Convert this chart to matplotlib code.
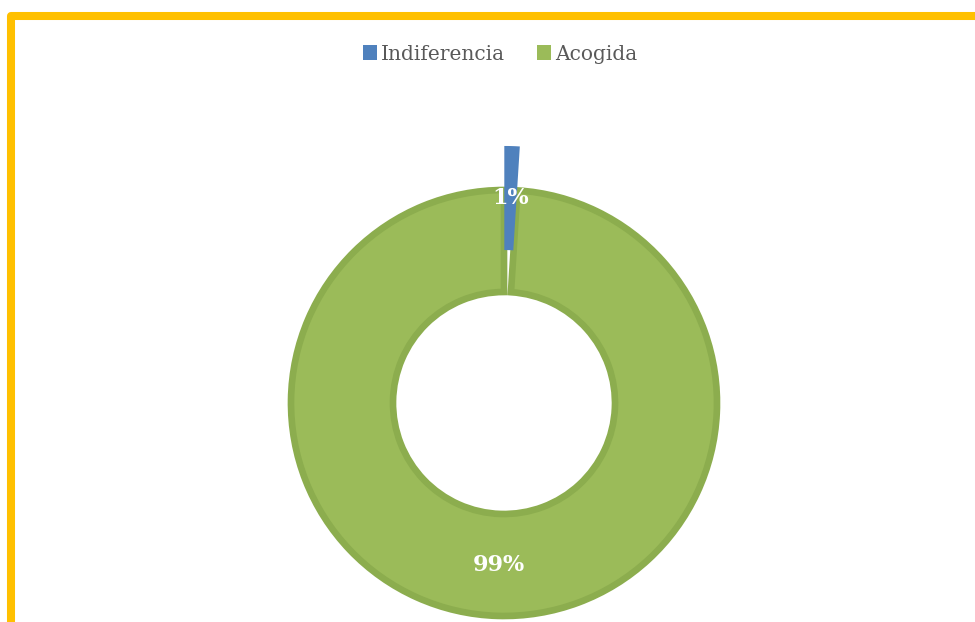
import matplotlib.pyplot as plt
from matplotlib.patches import Rectangle

# -- Data --------------------------------------------------------------------
categories = ["Indiferencia", "Acogida"]
values = [1, 99]
colors = ["#4f81bd", "#9bbb59"]
edge_colors = ["#4f81bd", "#8cad4e"]

W, H = 975, 622
CX, CY = 504, H - 403
R = 213
RING = 102
explode = [43, 0]  # pie offsets in data units (pixels here)

fig = plt.figure(figsize=(W / 100, H / 100), dpi=100)
ax = fig.add_axes([0, 0, 1, 1])

wedges, texts, autotexts = ax.pie(
    values,
    colors=colors,
    explode=explode,
    startangle=90,
    counterclock=False,
    center=(CX, CY),
    radius=R,
    autopct="%1.0f%%",
    pctdistance=0.76,
    wedgeprops=dict(width=RING, linewidth=4.8),
    textprops=dict(color="white", fontsize=16, fontweight="bold", family="DejaVu Serif"),
    frame=True,
)
for w, ec in zip(wedges, edge_colors):
    w.set_edgecolor(ec)
wedges[0].set_linewidth(1.5)
wedges[0].set_zorder(3)
for t in autotexts:
    t.set_zorder(5)

ax.set_xlim(0, W)
ax.set_ylim(0, H)
ax.set_aspect("equal")
ax.axis("off")

# legend
leg = fig.legend(
    wedges,
    categories,
    loc="center",
    bbox_to_anchor=(500 / W, 1 - 54 / H),
    ncol=2,
    frameon=False,
    handlelength=0.7,
    handleheight=0.7,
    handletextpad=0.2,
    columnspacing=1.6,
    prop=dict(family="DejaVu Serif", size=14.5),
)
for t in leg.get_texts():
    t.set_color("#595959")
for h, c in zip(leg.legend_handles, colors):
    h.set_edgecolor(c)
    h.set_linewidth(0)

# yellow frame
fig.patches.append(
    Rectangle(
        (10.5 / W, -0.1),
        1.2,
        1.1 - 16 / H,
        transform=fig.transFigure,
        fill=False,
        edgecolor="#ffc000",
        linewidth=5.8,
        joinstyle="round",
    )
)

fig.savefig("out.png", dpi=100)
